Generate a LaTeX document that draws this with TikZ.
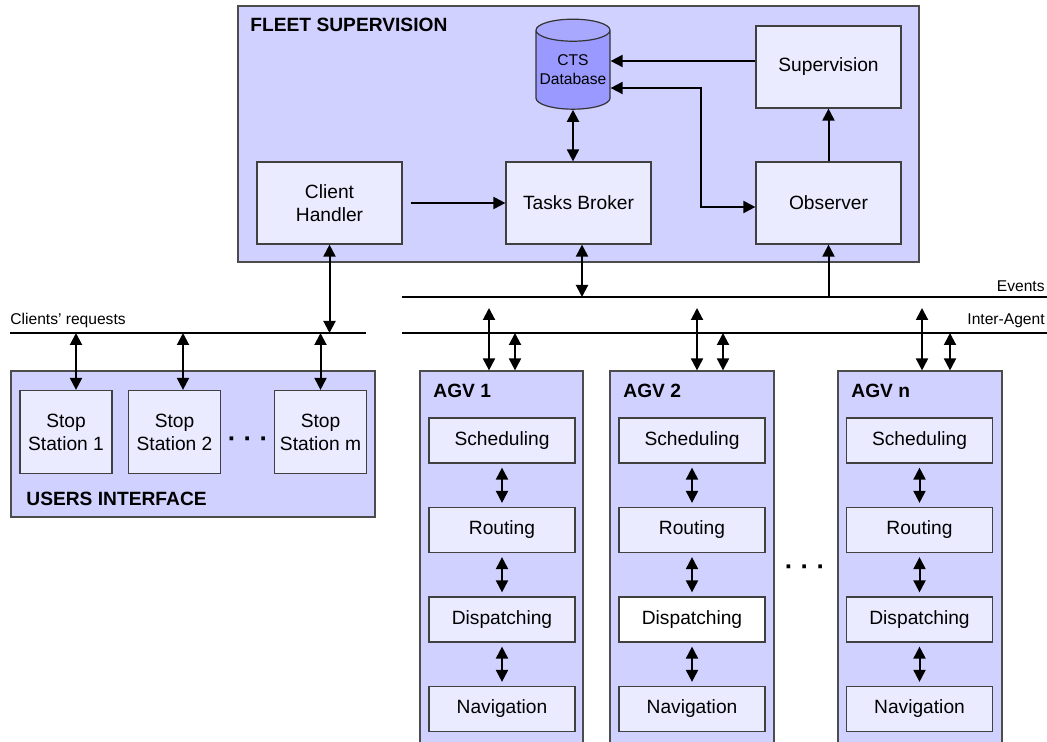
\documentclass[tikz,border=0pt]{standalone}
\usepackage{fontspec}
\setmainfont{Liberation Sans}
\usetikzlibrary{arrows.meta,shapes.geometric}

\begin{document}
\begin{tikzpicture}[
  x=0.5pt, y=-0.5pt,
  every node/.style={font=\fontsize{9.6}{11.5}\selectfont},
  panel/.style={draw=black!70, fill=blue!18, line width=0.6pt, inner sep=0pt},
  module/.style={draw=black!75, fill=blue!8, line width=0.6pt, align=center,
                 minimum width=72.5pt, minimum height=41pt, inner sep=0pt},
  station/.style={module, minimum width=46pt, minimum height=41.5pt},
  agvlayer/.style={module, minimum width=73pt, minimum height=22.5pt},
  heading/.style={font=\fontsize{9.6}{11.5}\selectfont\bfseries, anchor=west, inner sep=0pt},
  buslabel/.style={font=\fontsize{7.8}{9.5}\selectfont, inner sep=1pt},
  dots/.style={font=\fontsize{13}{13}\selectfont\bfseries, inner sep=0pt},
  bus/.style={line width=1pt},
  link/.style={line width=1pt, -{Triangle[length=6pt,width=6pt]}},
  dlink/.style={line width=1pt, {Triangle[length=6pt,width=6pt]}-{Triangle[length=6pt,width=6pt]}},
]
\useasboundingbox (0,0) rectangle (1047,742);

% ── Fleet supervision ──────────────────────────────────────────────────
\node[panel, minimum width=340.5pt, minimum height=128pt] (fleet) at (578.5,134) {};
\node[heading] (fleetlbl) at (250,25) {FLEET SUPERVISION};

\node[module] (client)   at (329.5,203) {Client\\Handler};
\node[module] (broker)   at (578.5,203) {Tasks Broker};
\node[module] (observer) at (828.5,203) {Observer};
\node[module] (superv)   at (828.5,67)  {Supervision};
\node[cylinder, shape border rotate=90, aspect=0.33, draw=black!80, line width=0.6pt,
      cylinder uses custom fill, cylinder body fill=blue!40, cylinder end fill=blue!34,
      minimum width=37pt, minimum height=45pt, inner sep=0pt, align=center,
      font=\fontsize{7.8}{9.5}\selectfont] (db) at (573,70) {CTS\\Database};

\draw[link, shorten <=4pt] (client) -- (broker);
\draw[dlink] (db.south) -- (db.south |- broker.north);
\draw[link] (observer.north) -- (superv.south);
\draw[link] (superv.west |- 0,61) -- (db.east |- 0,61);
\draw[dlink] (db.east |- 0,88) -- (701,88) |- (observer.west |- 0,207);

% ── Buses ──────────────────────────────────────────────────────────────
\coordinate (evL) at (402,297);  \coordinate (evR) at (1047,297);
\coordinate (iaL) at (402,333);  \coordinate (iaR) at (1047,333);
\coordinate (crL) at (10,333);   \coordinate (crR) at (366,333);

\draw[bus] (evL) -- (evR);
\draw[bus] (iaL) -- (iaR);
\draw[bus] (crL) -- (crR);

\node[buslabel, anchor=south east] (evlbl) at (1047,294) {Events};
\node[buslabel, anchor=south east] (ialbl) at (1047,330) {Inter-Agent};
\node[buslabel, anchor=south west] (crlbl) at (8,330)    {Clients' requests};

\draw[dlink] ([xshift=1.75pt]broker.south) -- ([xshift=1.75pt]broker.south |- evL);
\draw[link]  (observer.south |- evL) -- (observer.south);
\draw[dlink] (client.south) -- (client.south |- crL);

% ── Users interface ────────────────────────────────────────────────────
\node[panel, minimum width=182pt, minimum height=73pt] (users) at (193,444) {};
\node[station] (st1) at (66,432)    {Stop\\Station 1};
\node[station] (st2) at (174.5,432) {Stop\\Station 2};
\node[station] (stm) at (320.5,432) {Stop\\Station m};
\node[dots] (uidots) at (248,442) {· · ·};
\node[heading] (userslbl) at (26,499) {USERS INTERFACE};

\draw[dlink] ([xshift=5pt]st1.north) -- ([xshift=5pt]st1.north |- crL);
\draw[dlink] ([xshift=4.25pt]st2.north) -- ([xshift=4.25pt]st2.north |- crL);
\draw[dlink] (stm.north) -- (stm.north |- crL);

% ── AGV 1 ──────────────────────────────────────────────────────────────
\node[panel, minimum width=81.5pt, minimum height=194.5pt] (agv1) at (501.5,565.5) {};
\node[heading] (agv1lbl) at (433,391) {AGV 1};
\node[agvlayer] (sch1) at (502,440.5) {Scheduling};
\node[agvlayer] (rou1) at (502,530)   {Routing};
\node[agvlayer] (dis1) at (502,619.5) {Dispatching};
\node[agvlayer] (nav1) at (502,709)   {Navigation};

\draw[dlink, shorten <=2pt, shorten >=2pt] (sch1) -- (rou1);
\draw[dlink, shorten <=2pt, shorten >=2pt] (rou1) -- (dis1);
\draw[dlink, shorten <=2pt, shorten >=2pt] (dis1) -- (nav1);
\draw[dlink, shorten <=5.5pt] (evL -| 489,0) -- (agv1.north -| 489,0);
\draw[dlink] (iaL -| 515,0) -- (agv1.north -| 515,0);

% ── AGV 2 ──────────────────────────────────────────────────────────────
\node[panel, minimum width=82pt, minimum height=194.5pt] (agv2) at (692,565.5) {};
\node[heading] (agv2lbl) at (623,391) {AGV 2};
\node[agvlayer] (sch2) at (692,440.5) {Scheduling};
\node[agvlayer] (rou2) at (692,530)   {Routing};
\node[agvlayer, fill=white] (dis2) at (692,619.5) {Dispatching};
\node[agvlayer] (nav2) at (692,709)   {Navigation};

\draw[dlink, shorten <=2pt, shorten >=2pt] (sch2) -- (rou2);
\draw[dlink, shorten <=2pt, shorten >=2pt] (rou2) -- (dis2);
\draw[dlink, shorten <=2pt, shorten >=2pt] (dis2) -- (nav2);
\draw[dlink, shorten <=5.5pt] (evL -| 697,0) -- (agv2.north -| 697,0);
\draw[dlink] (iaL -| 723,0) -- (agv2.north -| 723,0);

\node[dots] (agvdots) at (805,570) {· · ·};

% ── AGV n ──────────────────────────────────────────────────────────────
\node[panel, minimum width=82pt, minimum height=194.5pt] (agvn) at (920,565.5) {};
\node[heading] (agvnlbl) at (851,391) {AGV n};
\node[agvlayer] (schn) at (919.5,440.5) {Scheduling};
\node[agvlayer] (roun) at (919.5,530)   {Routing};
\node[agvlayer] (disn) at (919.5,619.5) {Dispatching};
\node[agvlayer] (navn) at (919.5,709)   {Navigation};

\draw[dlink, shorten <=2pt, shorten >=2pt] (schn) -- (roun);
\draw[dlink, shorten <=2pt, shorten >=2pt] (roun) -- (disn);
\draw[dlink, shorten <=2pt, shorten >=2pt] (disn) -- (navn);
\draw[dlink, shorten <=5.5pt] (evL -| 922,0) -- (agvn.north -| 922,0);
\draw[dlink] (iaL -| 950,0) -- (agvn.north -| 950,0);

\end{tikzpicture}
\end{document}
